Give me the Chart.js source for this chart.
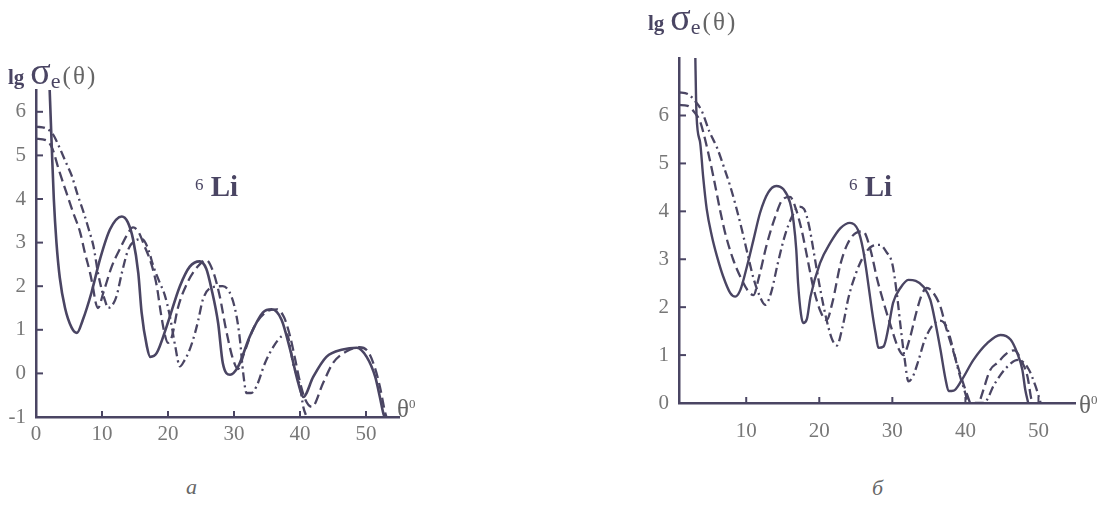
<!DOCTYPE html>
<html>
<head>
<meta charset="utf-8">
<script src="https://cdn.jsdelivr.net/npm/chart.js@4.4.1/dist/chart.umd.min.js"></script>
<style>
  body { margin: 0; background: #fff; width: 1110px; height: 506px; position: relative; overflow: hidden;
         font-family: 'Liberation Serif', 'DejaVu Serif', serif; color: #4a4563; }
  canvas { position: absolute; top: 0; }
  .t { position: absolute; white-space: nowrap; line-height: 1; }
  .ttl b { font-size: 21px; }
  .ttl .s { font-size: 38px; margin-left: 6px; }
  .ttl sub { font-size: 22px; }
  .ttl .p { font-size: 25px; color: #666; letter-spacing: 2px; margin-left: 2px; }
</style>
</head>
<body>
<canvas id="chartA" width="430" height="460" style="left:0"></canvas>
<canvas id="chartB" width="480" height="460" style="left:630px"></canvas>

<div class="t ttl" style="left:8px;top:52px;"><b>lg</b><span class="s">σ</span><sub>e</sub><span class="p">(θ)</span></div>
<div class="t ttl" style="left:648px;top:-2px;"><b>lg</b><span class="s">σ</span><sub>e</sub><span class="p">(θ)</span></div>

<div class="t" style="left:195px;top:172px;"><sup style="font-size:17px">6</sup><b style="font-size:29px"> Li</b></div>
<div class="t" style="left:849px;top:172px;"><sup style="font-size:17px">6</sup><b style="font-size:29px"> Li</b></div>

<div class="t" style="left:397px;top:396px;font-size:25px;color:#666">θ<sup style="font-size:13px">0</sup></div>
<div class="t" style="left:1079px;top:392px;font-size:25px;color:#666">θ<sup style="font-size:13px">0</sup></div>

<div class="t" style="left:186px;top:476px;font-size:22px;font-style:italic;color:#666">а</div>
<div class="t" style="left:872px;top:477px;font-size:22px;font-style:italic;color:#666">б</div>

<script>
// panel a: [theta, lg sigma]
const solidA = [[2.0,6.8],[2.4,5.15],[2.7,4.0],[3.1,3.0],[3.6,2.2],[4.4,1.5],[5.4,1.05],[6.2,0.93],[7.1,1.23],[8.4,1.85],[9.7,2.62],[11.2,3.3],[13.0,3.6],[13.9,3.47],[14.7,3.08],[15.5,2.3],[16.0,1.4],[16.8,0.62],[17.3,0.38],[18.3,0.47],[19.8,1.08],[21.8,2.0],[23.3,2.45],[24.8,2.57],[25.8,2.4],[26.6,1.93],[27.6,1.15],[28.3,0.24],[29.4,-0.03],[30.6,0.15],[32.4,0.85],[34.4,1.4],[35.7,1.47],[37.2,1.23],[38.5,0.55],[39.7,-0.2],[40.5,-0.54],[42.0,-0.08],[44.0,0.38],[46.5,0.55],[48.6,0.59],[50.1,0.38],[51.4,-0.08],[52.1,-0.54],[52.6,-0.9],[52.8,-1.0]];
const dashA = [[0,5.38],[1.5,5.35],[2.5,5.15],[3.4,4.7],[4.6,4.15],[5.6,3.7],[6.7,3.23],[7.4,2.77],[8.2,2.3],[8.7,1.92],[9.0,1.65],[9.4,1.5],[10.2,1.85],[11.5,2.46],[12.7,2.85],[13.7,3.15],[14.7,3.35],[15.5,3.25],[16.5,2.9],[17.5,2.5],[18.3,2.0],[18.9,1.4],[19.5,0.9],[20.0,0.7],[20.6,0.85],[21.5,1.5],[23.0,2.1],[24.5,2.45],[25.8,2.6],[26.8,2.35],[27.8,1.8],[28.8,1.0],[29.8,0.35],[30.6,0.1],[31.5,0.45],[33.0,1.05],[34.8,1.4],[36.5,1.47],[37.6,1.28],[38.5,0.85],[39.3,0.3],[40.0,-0.2],[40.8,-0.6],[41.8,-0.77],[43.5,-0.22],[45.0,0.24],[47.0,0.5],[49.0,0.6],[50.3,0.5],[51.3,0.15],[52.1,-0.3],[52.9,-0.9],[53.1,-1.0]];
const dotDashA = [[0,5.66],[1.5,5.62],[2.5,5.5],[3.5,5.2],[4.5,4.85],[5.4,4.54],[6.3,4.1],[7.2,3.7],[8.0,3.3],[8.7,2.92],[9.4,2.3],[10.0,1.9],[10.5,1.65],[10.9,1.5],[11.5,1.55],[12.2,1.77],[13.0,2.3],[14.0,2.85],[15.1,3.05],[16.1,3.08],[17.0,2.85],[17.8,2.45],[18.7,2.1],[19.5,1.8],[20.3,1.3],[21.1,0.62],[21.8,0.16],[22.5,0.3],[23.3,0.55],[24.1,0.93],[24.6,1.23],[25.3,1.7],[26.6,1.97],[28.3,2.0],[29.6,1.77],[30.4,1.3],[30.9,0.77],[31.4,0.0],[31.9,-0.45],[32.6,-0.45],[33.4,-0.3],[34.7,0.24],[36.0,0.62],[37.2,0.85],[38.0,0.9],[39.0,0.2],[40.0,-0.3],[40.5,-0.77],[41.0,-1.0]];

// panel б
const solidB = [[3.0,7.5],[3.2,6.0],[3.7,5.43],[4.1,4.73],[4.6,4.04],[5.3,3.48],[6.0,3.06],[6.85,2.64],[7.8,2.3],[8.5,2.22],[9.2,2.36],[10.1,2.85],[11.0,3.41],[11.9,3.97],[13.0,4.39],[14.1,4.53],[15.1,4.46],[16.0,4.18],[16.5,3.76],[16.85,3.2],[17.1,2.5],[17.5,1.85],[17.8,1.67],[18.3,1.75],[18.8,2.22],[20.1,2.92],[21.5,3.34],[22.9,3.65],[24.2,3.76],[25.3,3.61],[26.0,3.2],[26.5,2.71],[27.2,1.94],[27.7,1.46],[28.1,1.15],[28.8,1.18],[29.5,1.6],[30.1,2.09],[31.1,2.4],[32.2,2.57],[33.2,2.55],[34.3,2.42],[35.2,2.15],[35.9,1.67],[36.6,1.1],[37.3,0.48],[37.7,0.25],[38.4,0.26],[39.5,0.48],[41.1,0.9],[43.0,1.25],[44.8,1.42],[46.2,1.32],[47.1,1.04],[47.8,0.69],[48.2,0.27],[48.6,0]];
const dashB = [[0.8,6.22],[2.0,6.2],[3.0,6.05],[3.7,5.87],[4.7,5.29],[5.5,4.73],[6.4,4.04],[7.1,3.56],[8.2,3.0],[9.3,2.6],[10.2,2.35],[11.0,2.25],[11.7,2.6],[12.8,3.3],[14.0,3.9],[15.0,4.25],[16.0,4.3],[16.8,4.05],[17.6,3.6],[18.4,3.0],[19.2,2.4],[20.2,1.9],[21.0,1.73],[21.8,2.1],[22.9,2.9],[23.8,3.3],[25.0,3.55],[26.0,3.58],[27.0,3.2],[27.9,2.6],[28.8,2.1],[29.8,1.6],[30.8,1.15],[31.5,1.0],[32.3,1.3],[33.3,1.9],[34.0,2.25],[34.7,2.4],[35.6,2.3],[36.6,2.0],[37.3,1.6],[38.3,1.1],[39.4,0.55],[40.3,0.15],[41.0,-0.1],[41.6,-0.1],[42.2,0.15],[43.4,0.69],[44.4,0.84],[45.7,1.04],[46.7,1.1],[47.8,0.84],[48.5,0.55],[49.0,0.1],[49.2,0]];
const dotDashB = [[0.8,6.48],[2.0,6.45],[3.0,6.3],[3.9,6.1],[5.0,5.65],[6.0,5.33],[7.0,4.9],[7.8,4.53],[8.6,4.1],[9.4,3.62],[10.2,3.1],[11.0,2.6],[11.8,2.25],[12.6,2.05],[13.4,2.3],[14.3,2.9],[15.3,3.5],[16.3,3.9],[17.2,4.1],[17.9,4.05],[18.6,3.7],[19.3,3.1],[20.1,2.4],[20.9,1.8],[21.7,1.35],[22.4,1.2],[23.2,1.6],[24.0,2.2],[25.0,2.7],[26.2,3.1],[27.3,3.28],[28.3,3.3],[29.2,3.15],[30.0,2.9],[30.6,2.3],[31.2,1.5],[31.7,0.9],[32.2,0.45],[32.8,0.55],[33.6,0.9],[34.4,1.3],[35.4,1.6],[36.5,1.72],[37.4,1.6],[38.2,1.2],[39.0,0.7],[39.8,0.3],[40.5,0],[42.5,0],[44.0,0.4],[45.5,0.72],[47.2,0.9],[48.6,0.72],[49.6,0.35],[50.3,0]];

const xTicksA = [0, 10, 20, 30, 40, 50];
const yTicksA = [-1, 0, 1, 2, 3, 4, 5, 6];
const xTicksB = [10, 20, 30, 40, 50];
const yTicksB = [0, 1, 2, 3, 4, 5, 6];

const ink = '#4a4563';
const labelGray = '#777';
const tickFont = { family: "'Liberation Serif', 'DejaVu Serif', serif", size: 21 };

// small tick marks pointing into the plot
const inwardTicks = {
    id: 'inwardTicks',
    afterDraw(chart) {
        const { ctx, chartArea: a, scales: { x, y } } = chart;
        ctx.save();
        ctx.strokeStyle = ink;
        ctx.lineWidth = 2;
        x.ticks.forEach(t => {
            const px = x.getPixelForValue(t.value);
            if (px <= a.left + 2) return;
            ctx.beginPath(); ctx.moveTo(px, a.bottom); ctx.lineTo(px, a.bottom - 6); ctx.stroke();
        });
        y.ticks.forEach(t => {
            const py = y.getPixelForValue(t.value);
            if (py >= a.bottom - 2) return;
            ctx.beginPath(); ctx.moveTo(a.left, py); ctx.lineTo(a.left + 7, py); ctx.stroke();
        });
        ctx.restore();
    }
};

function series(pts, dash, width) {
    return {
        data: pts.map(([x, y]) => ({ x, y })),
        borderColor: ink,
        borderWidth: width,
        borderDash: dash,
        pointRadius: 0,
        fill: false,
        cubicInterpolationMode: 'monotone'
    };
}

function makeChart(id, sets, cfg) {
    return new Chart(document.getElementById(id), {
        type: 'line',
        data: { datasets: sets },
        options: {
            responsive: false,
            animation: false,
            devicePixelRatio: 1,
            layout: { padding: cfg.padding },
            plugins: { legend: { display: false }, tooltip: { enabled: false } },
            scales: {
                x: {
                    type: 'linear', min: cfg.xMin, max: cfg.xMax,
                    afterBuildTicks: ax => { ax.ticks = cfg.xTicks.map(v => ({ value: v })); },
                    afterFit: ax => { ax.height = cfg.xHeight; },
                    grid: { display: false, drawTicks: false },
                    border: { display: true, color: ink, width: 2.5 },
                    ticks: { color: labelGray, font: tickFont, padding: cfg.xPad, maxRotation: 0, autoSkip: false }
                },
                y: {
                    type: 'linear', min: cfg.yMin, max: cfg.yMax,
                    afterBuildTicks: ax => { ax.ticks = cfg.yTicks.map(v => ({ value: v })); },
                    afterFit: ax => { ax.width = cfg.yWidth; },
                    grid: { display: false, drawTicks: false },
                    border: { display: true, color: ink, width: 2.5 },
                    ticks: { color: labelGray, font: tickFont, padding: 10, autoSkip: false }
                }
            }
        },
        plugins: [inwardTicks]
    });
}

makeChart('chartA', [
    series(solidA, [], 2.6),
    series(dashA, [10, 5], 2.3),
    series(dotDashA, [9, 4, 2, 4], 2.3)
], {
    xMin: 0, xMax: 55, yMin: -1, yMax: 6.5,
    xTicks: xTicksA, yTicks: yTicksA, xPad: 5,
    padding: { top: 90, right: 31, left: 0, bottom: 0 },
    xHeight: 43, yWidth: 36
});

makeChart('chartB', [
    series(solidB, [], 2.4),
    series(dashB, [10, 5], 2.3),
    series(dotDashB, [9, 4, 2, 4], 2.3)
], {
    xMin: 0.8, xMax: 55, yMin: 0, yMax: 7.2,
    xTicks: xTicksB, yTicks: yTicksB, xPad: 16,
    padding: { top: 58, right: 35, left: 0, bottom: 0 },
    xHeight: 57, yWidth: 49
});
</script>
</body>
</html>
